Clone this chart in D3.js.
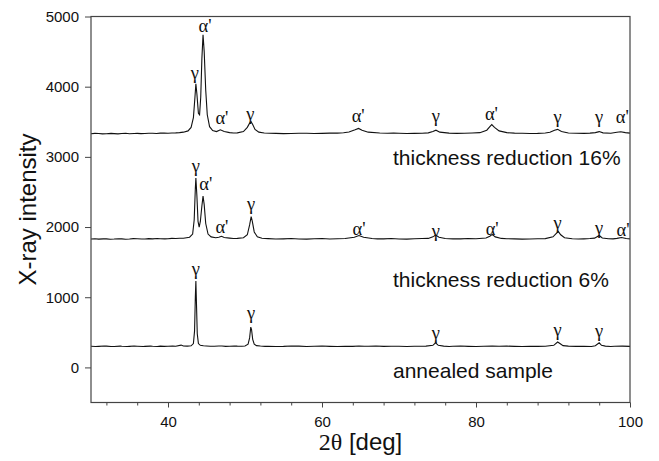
<!DOCTYPE html>
<html><head><meta charset="utf-8">
<script src="https://cdn.jsdelivr.net/npm/d3@7"></script>
<style>body{margin:0;background:#fff}</style></head>
<body><svg id="c" width="659" height="461"></svg>
<script>
const xTicks=[40,60,80,100];
const xMinor=[32,36,44,48,52,56,64,68,72,76,84,88,92,96];
const yTicks=[0,1000,2000,3000,4000,5000];
const annealed=[[30,302],[30.6,298],[31,300],[31.7,304],[32,303],[32.6,298],[33,299],[33.8,303],[34,301],[34.7,297],[35,300],[35.6,304],[36,302],[36.8,298],[37,300],[37.7,303],[38,301],[38.6,299],[39,303],[39.5,300],[40,301],[40.6,304],[41,302],[41.7,318],[42.0,305],[42.5,303],[43.0,308],[43.3,340],[43.45,520],[43.55,1000],[43.62,1230],[43.7,900],[43.8,480],[43.95,340],[44.2,315],[44.6,308],[45,305],[45.5,301],[46,302],[46.6,306],[47,304],[47.5,300],[48,301],[48.6,305],[49,303],[49.6,302],[50,306],[50.4,330],[50.6,420],[50.75,575],[50.85,540],[51.0,400],[51.2,330],[51.5,310],[52,304],[52.6,300],[53,302],[54,299],[55,300],[56,304],[57,303],[58,299],[59,301],[60,304],[61,300],[62,298],[63,302],[64,300],[64.8,306],[65.5,302],[66,301],[67,304],[68,300],[69,302],[70,302],[71,298],[72,301],[73.5,303],[74.4,315],[74.75,350],[75.1,315],[75.8,303],[76.5,299],[77,301],[78,304],[79,300],[80,298],[81,302],[82.1,306],[83,301],[84,304],[85,300],[86,298],[87,302],[88,300],[89,301],[90.1,315],[90.6,362],[90.9,340],[91.3,310],[92,303],[93,300],[94,301],[95,299],[95.5,308],[96.0,350],[96.3,315],[96.8,303],[97.5,299],[98,301],[99,303],[100,300]];
const red6=[[30,1830],[30.5,1834],[31,1828],[31.6,1832],[32,1832],[32.5,1827],[33,1829],[33.6,1834],[34,1831],[34.5,1827],[35,1830],[35.5,1835],[36,1833],[36.6,1829],[37,1830],[37.5,1835],[38,1832],[38.6,1837],[39,1834],[39.6,1831],[40,1833],[40.5,1838],[41,1836],[41.5,1841],[42,1840],[42.8,1855],[43.2,1900],[43.4,2100],[43.55,2550],[43.62,2700],[43.75,2450],[43.9,2080],[44.05,2000],[44.2,2080],[44.4,2300],[44.55,2440],[44.7,2320],[44.9,2050],[45.2,1900],[45.6,1860],[46.2,1848],[46.6,1855],[46.95,1868],[47.3,1852],[48,1842],[48.5,1836],[49,1838],[49.8,1848],[50.3,1890],[50.6,2030],[50.8,2150],[50.95,2080],[51.2,1930],[51.6,1860],[52.2,1840],[53,1835],[54,1830],[55,1832],[56,1836],[57,1830],[58,1828],[59,1833],[60,1836],[61,1830],[62,1833],[63,1836],[64.2,1855],[64.8,1880],[65.4,1855],[66.5,1836],[67.2,1831],[68,1832],[69,1836],[70,1830],[71,1828],[72,1833],[73,1836],[73.8,1838],[74.4,1860],[74.75,1885],[75.2,1855],[76,1836],[77,1831],[78,1832],[79,1836],[80,1834],[81.3,1845],[81.8,1870],[82.1,1895],[82.5,1860],[83.3,1838],[84,1834],[85,1832],[86,1828],[87,1830],[88,1834],[89,1835],[90.0,1860],[90.4,1905],[90.7,1935],[91.0,1890],[91.5,1848],[92.5,1834],[93.3,1830],[94,1832],[94.8,1836],[95.4,1842],[96.0,1880],[96.4,1845],[97.2,1834],[97.8,1831],[98.3,1838],[98.9,1850],[99.5,1836],[100,1832]];
const red16=[[30,3330],[30.5,3334],[31,3332],[31.5,3327],[32,3329],[32.6,3334],[33,3331],[33.5,3328],[34,3333],[34.5,3336],[35,3330],[35.6,3333],[36,3334],[36.5,3331],[37,3332],[37.5,3337],[38,3336],[38.5,3333],[39,3338],[39.5,3341],[40,3337],[40.5,3341],[41,3342],[41.5,3346],[42,3352],[42.6,3370],[43.0,3420],[43.3,3560],[43.5,3850],[43.62,4040],[43.75,3900],[43.95,3620],[44.1,3600],[44.25,3850],[44.4,4400],[44.55,4740],[44.7,4500],[44.9,3950],[45.1,3600],[45.4,3430],[45.8,3375],[46.3,3360],[46.8,3385],[47.3,3362],[48,3345],[48.5,3340],[49,3342],[49.8,3360],[50.3,3420],[50.6,3480],[50.8,3500],[51.0,3460],[51.3,3390],[51.8,3352],[52.5,3340],[53.2,3336],[54,3335],[55,3331],[56,3333],[57,3337],[58,3336],[59,3332],[60,3334],[61,3338],[62,3338],[62.8,3343],[63.5,3355],[64.3,3385],[64.75,3405],[65.2,3380],[66,3352],[67.5,3340],[68.5,3336],[69.3,3340],[70,3336],[71,3332],[72,3334],[73,3337],[73.8,3342],[74.4,3360],[74.8,3380],[75.3,3352],[76.5,3338],[77.5,3334],[78.5,3336],[79.5,3340],[80.5,3345],[81.4,3380],[81.8,3430],[82.05,3460],[82.4,3420],[83,3370],[84,3345],[85,3338],[86,3336],[87,3332],[88,3334],[89,3340],[89.6,3350],[90.2,3380],[90.6,3392],[91.1,3362],[92,3340],[93,3336],[94,3334],[94.8,3338],[95.5,3345],[96.0,3360],[96.5,3342],[97.5,3336],[98.3,3350],[98.8,3358],[99.4,3345],[100,3338]];
const peakLabels=[
 [43.5,4208,"γ"],[44.8,4877,"α'"],[47.0,3567,"α'"],[50.7,3624,"γ"],[64.7,3595,"α'"],[74.8,3595,"γ"],[82.0,3624,"α'"],[90.6,3581,"γ"],[96.0,3581,"γ"],[99.0,3581,"α'"],
 [43.6,2883,"γ"],[44.9,2627,"α'"],[47.0,2014,"α'"],[50.8,2342,"γ"],[64.8,1986,"α'"],[74.8,1957,"γ"],[82.1,1986,"α'"],[90.6,2071,"γ"],[96.0,2000,"γ"],[99.1,1971,"α'"],
 [43.6,1416,"γ"],[50.8,775,"γ"],[74.8,490,"γ"],[90.6,533,"γ"],[96.0,519,"γ"]];
const sampleLabels=[[2883,"thickness reduction 16%"],[1145,"thickness reduction 6%"],[-151,"annealed sample"]];

const svg=d3.select("#c");
const L=91,R=630,T=16.5,B=402.5;
const x=d3.scaleLinear().domain([30,100]).range([L,R]);
const y=d3.scaleLinear().domain([-500,5000]).range([B,T]);
const frame="#444";
const line=d3.line().x(d=>x(d[0])).y(d=>y(d[1]));
[annealed,red6,red16].forEach(s=>svg.append("path").attr("d",line(s)).attr("fill","none").attr("stroke","#111").attr("stroke-width",1.1));
svg.append("rect").attr("x",L).attr("y",T).attr("width",R-L).attr("height",B-T).attr("fill","none").attr("stroke",frame).attr("stroke-width",1.2);
svg.append("g").attr("transform",`translate(${L},0)`).call(d3.axisLeft(y).tickValues(yTicks).tickSize(6).tickPadding(6).tickFormat(d3.format("d")));
svg.append("g").attr("transform",`translate(0,${B})`).call(d3.axisBottom(x).tickValues(xTicks).tickSize(5).tickPadding(9).tickFormat(d3.format("d")));
svg.append("g").attr("transform",`translate(0,${B})`).call(d3.axisBottom(x).tickValues(xMinor).tickSize(3).tickFormat(""));
svg.selectAll(".domain").remove();
svg.selectAll(".tick line").attr("stroke",frame);
svg.selectAll(".tick text").attr("font-family","Liberation Sans, Arial, sans-serif").attr("font-size",15).attr("fill","#111");
svg.append("g").selectAll("text").data(peakLabels).join("text")
 .attr("x",d=>x(d[0])).attr("y",d=>y(d[1])).attr("dy","0.35em").attr("text-anchor","middle")
 .attr("font-family","Liberation Serif, Times New Roman, serif").attr("font-size",18.5).attr("fill","#111").text(d=>d[2]);
svg.append("g").selectAll("text").data(sampleLabels).join("text")
 .attr("x",393).attr("y",d=>y(d[0])).attr("font-family","Liberation Sans, Arial, sans-serif").attr("font-size",21).attr("fill","#111").text(d=>d[1]);
svg.append("text").attr("transform",`translate(36,${(T+B)/2}) rotate(-90)`).attr("text-anchor","middle")
 .attr("font-family","Liberation Sans, Arial, sans-serif").attr("font-size",24).attr("fill","#111").text("X-ray intensity");
const xt=svg.append("text").attr("x",(L+R)/2).attr("y",450).attr("text-anchor","middle").attr("font-size",24).attr("fill","#111");
xt.append("tspan").attr("font-family","Liberation Serif, Times New Roman, serif").text("2θ");
xt.append("tspan").attr("font-family","Liberation Sans, Arial, sans-serif").text(" [deg]");
</script></body></html>
